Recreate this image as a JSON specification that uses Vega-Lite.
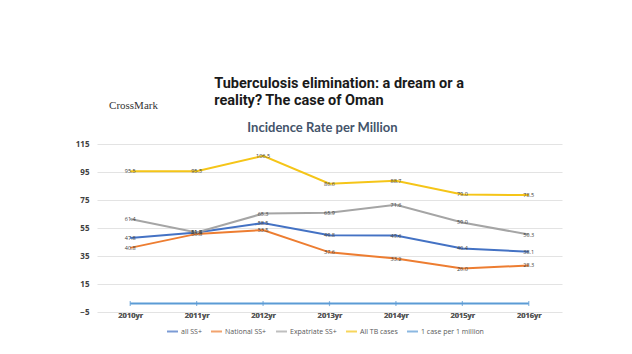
{
  "$schema": "https://vega.github.io/schema/vega-lite/v6.json",
  "autosize": {"type": "none"},
  "width": 465,
  "height": 168,
  "padding": {"left": 97, "top": 144, "right": 70, "bottom": 42},
  "background": "white",
  "title": {
    "text": ["Tuberculosis elimination: a dream or a", "reality? The case of Oman"],
    "anchor": "start",
    "dx": 139,
    "offset": -9,
    "font": "Roboto",
    "fontSize": 14.5,
    "fontWeight": "bold",
    "color": "#1a1a1a",
    "lineHeight": 17
  },
  "data": {
    "values": [
      {"year": "2010yr", "series": "all SS+", "value": 47.8},
      {"year": "2011yr", "series": "all SS+", "value": 51.8},
      {"year": "2012yr", "series": "all SS+", "value": 58.5},
      {"year": "2013yr", "series": "all SS+", "value": 49.8},
      {"year": "2014yr", "series": "all SS+", "value": 49.6},
      {"year": "2015yr", "series": "all SS+", "value": 40.4},
      {"year": "2016yr", "series": "all SS+", "value": 38.1},
      {"year": "2010yr", "series": "National SS+", "value": 40.8},
      {"year": "2011yr", "series": "National SS+", "value": 50.8},
      {"year": "2012yr", "series": "National SS+", "value": 53.5},
      {"year": "2013yr", "series": "National SS+", "value": 37.6},
      {"year": "2014yr", "series": "National SS+", "value": 33.2},
      {"year": "2015yr", "series": "National SS+", "value": 26.0},
      {"year": "2016yr", "series": "National SS+", "value": 28.3},
      {"year": "2010yr", "series": "Expatriate SS+", "value": 61.4},
      {"year": "2011yr", "series": "Expatriate SS+", "value": 51.8},
      {"year": "2012yr", "series": "Expatriate SS+", "value": 65.3},
      {"year": "2013yr", "series": "Expatriate SS+", "value": 65.9},
      {"year": "2014yr", "series": "Expatriate SS+", "value": 71.6},
      {"year": "2015yr", "series": "Expatriate SS+", "value": 59.0},
      {"year": "2016yr", "series": "Expatriate SS+", "value": 50.3},
      {"year": "2010yr", "series": "All TB cases", "value": 95.5},
      {"year": "2011yr", "series": "All TB cases", "value": 95.5},
      {"year": "2012yr", "series": "All TB cases", "value": 106.5},
      {"year": "2013yr", "series": "All TB cases", "value": 86.6},
      {"year": "2014yr", "series": "All TB cases", "value": 88.7},
      {"year": "2015yr", "series": "All TB cases", "value": 79.0},
      {"year": "2016yr", "series": "All TB cases", "value": 78.5},
      {"year": "2010yr", "series": "1 case per 1 million", "value": 1},
      {"year": "2011yr", "series": "1 case per 1 million", "value": 1},
      {"year": "2012yr", "series": "1 case per 1 million", "value": 1},
      {"year": "2013yr", "series": "1 case per 1 million", "value": 1},
      {"year": "2014yr", "series": "1 case per 1 million", "value": 1},
      {"year": "2015yr", "series": "1 case per 1 million", "value": 1},
      {"year": "2016yr", "series": "1 case per 1 million", "value": 1}
    ]
  },
  "encoding": {
    "x": {
      "field": "year",
      "type": "ordinal",
      "scale": {"type": "point", "padding": 0.5},
      "axis": {
        "title": null,
        "labelAngle": 0,
        "labelFont": "Open Sans",
        "labelFontSize": 7.5,
        "labelFontWeight": "bold",
        "labelColor": "#595959",
        "labelPadding": -1,
        "ticks": false,
        "domain": false,
        "grid": false
      }
    },
    "y": {
      "field": "value",
      "type": "quantitative",
      "scale": {"domain": [-5, 115], "nice": false, "zero": false},
      "axis": {
        "values": [-5, 15, 35, 55, 75, 95, 115],
        "title": "CrossMark",
        "titleAngle": 0,
        "titleX": 36,
        "titleY": -39,
        "titleAlign": "center",
        "titleBaseline": "middle",
        "titleFont": "Liberation Serif",
        "titleFontSize": 11,
        "titleFontWeight": "normal",
        "titleColor": "#333333",
        "labelFont": "Open Sans",
        "labelFontSize": 8,
        "labelFontWeight": "bold",
        "labelColor": "#404040",
        "labelPadding": 8,
        "ticks": false,
        "domain": false,
        "gridColor": "#e3e3e3",
        "gridWidth": 1
      }
    },
    "color": {
      "field": "series",
      "type": "nominal",
      "sort": ["all SS+", "National SS+", "Expatriate SS+", "All TB cases", "1 case per 1 million"],
      "scale": {
        "domain": ["all SS+", "National SS+", "Expatriate SS+", "All TB cases", "1 case per 1 million"],
        "range": ["#4472C4", "#ED7D31", "#A5A5A5", "#F5C518", "#5B9BD5"]
      },
      "legend": {
        "title": null,
        "orient": "none",
        "legendX": 69,
        "legendY": 181,
        "direction": "horizontal",
        "gridAlign": "none",
        "symbolType": "stroke",
        "symbolStrokeWidth": 2,
        "symbolSize": 120,
        "labelFont": "Open Sans",
        "labelFontSize": 7,
        "labelColor": "#595959",
        "labelOffset": 2,
        "columnPadding": 5,
        "symbolOffset": 0
      }
    }
  },
  "layer": [
    {
      "mark": {"type": "line", "strokeWidth": 2},
      "encoding": {
        "x": {
          "field": "year",
          "type": "ordinal",
          "axis": {
            "orient": "top",
            "title": "Incidence Rate per Million",
            "titleFont": "Lato",
            "titleFontSize": 13,
            "titleFontWeight": "bold",
            "titleColor": "#44546A",
            "titlePadding": 10,
            "titleX": 225,
            "labels": false,
            "ticks": false,
            "domain": false,
            "grid": false
          }
        }
      }
    },
    {
      "transform": [{"filter": "datum.series === '1 case per 1 million'"}],
      "mark": {"type": "point", "shape": "M0,-1L0,1", "size": 25, "filled": false, "strokeWidth": 1.2}
    },
    {
      "transform": [{"filter": "datum.series !== '1 case per 1 million'"}],
      "mark": {"type": "text", "fontSize": 5.5, "font": "Open Sans", "baseline": "middle", "align": "center"},
      "encoding": {
        "text": {"field": "value", "type": "quantitative", "format": ".1f"},
        "color": {"value": "#404040"}
      }
    }
  ],
  "resolve": {"axis": {"x": "independent"}},
  "config": {
    "view": {"stroke": null}
  }
}
